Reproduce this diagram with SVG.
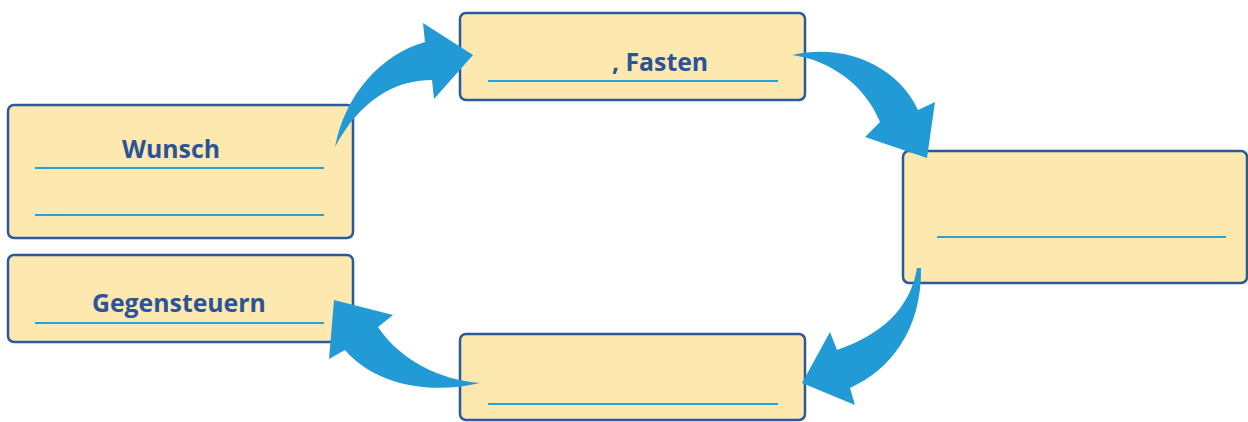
<svg xmlns="http://www.w3.org/2000/svg" width="1248" height="422" viewBox="0 0 1248 422">
  <style>
    .box { fill: #fde8b0; stroke: #2b5a9a; stroke-width: 2.5; }
    .line { stroke: #2aa0d8; stroke-width: 2; fill: none; }
    .label { font-family: "Open Sans", "Noto Sans", sans-serif; font-weight: bold; font-size: 24.8px; fill: #2a5497; }
    .arrow { fill: #229ad6; }
  </style>
  <rect width="1248" height="422" fill="#ffffff"/>

  <g id="node-wunsch">
    <rect class="box" x="8" y="105" width="345" height="133" rx="6"/>
    <text class="label" x="122" y="158">Wunsch</text>
    <line class="line" x1="35" y1="168" x2="324" y2="168"/>
    <line class="line" x1="35" y1="215" x2="324" y2="215"/>
  </g>

  <g id="node-gegensteuern">
    <rect class="box" x="8" y="255" width="345" height="87" rx="6"/>
    <text class="label" x="92" y="312">Gegensteuern</text>
    <line class="line" x1="35" y1="323" x2="324" y2="323"/>
  </g>

  <g id="node-fasten">
    <rect class="box" x="460" y="13" width="345" height="87" rx="6"/>
    <text class="label" x="612" y="71">, Fasten</text>
    <line class="line" x1="488" y1="81" x2="778" y2="81"/>
  </g>

  <g id="node-right">
    <rect class="box" x="903" y="151" width="344" height="132" rx="6"/>
    <line class="line" x1="937" y1="237" x2="1226" y2="237"/>
  </g>

  <g id="node-bottom">
    <rect class="box" x="460" y="334" width="345" height="86" rx="6"/>
    <line class="line" x1="488" y1="404" x2="778" y2="404"/>
  </g>

  <g id="connectors">
    <path class="arrow" d="M 335 147 C 345 95, 380 55, 425 42 L 423 23 L 473 55 L 434 99 L 432 80 C 395 80, 360 100, 335 147 Z"/>
    <path class="arrow" d="M 792 55 C 850 42, 900 70, 918 110 L 935 102 L 927 158 L 865 137 L 880 122 C 865 85, 830 60, 792 55 Z"/>
    <path class="arrow" d="M 921 268 C 922 330, 890 370, 850 388 L 855 405 L 802 383 L 830 332 L 837 350 C 880 335, 910 310, 917 268 Z"/>
    <path class="arrow" d="M 480 383 C 440 380, 400 360, 378 327 L 393 315 L 334 300 L 329 359 L 345 350 C 375 385, 430 395, 480 383 Z"/>
  </g>
</svg>
